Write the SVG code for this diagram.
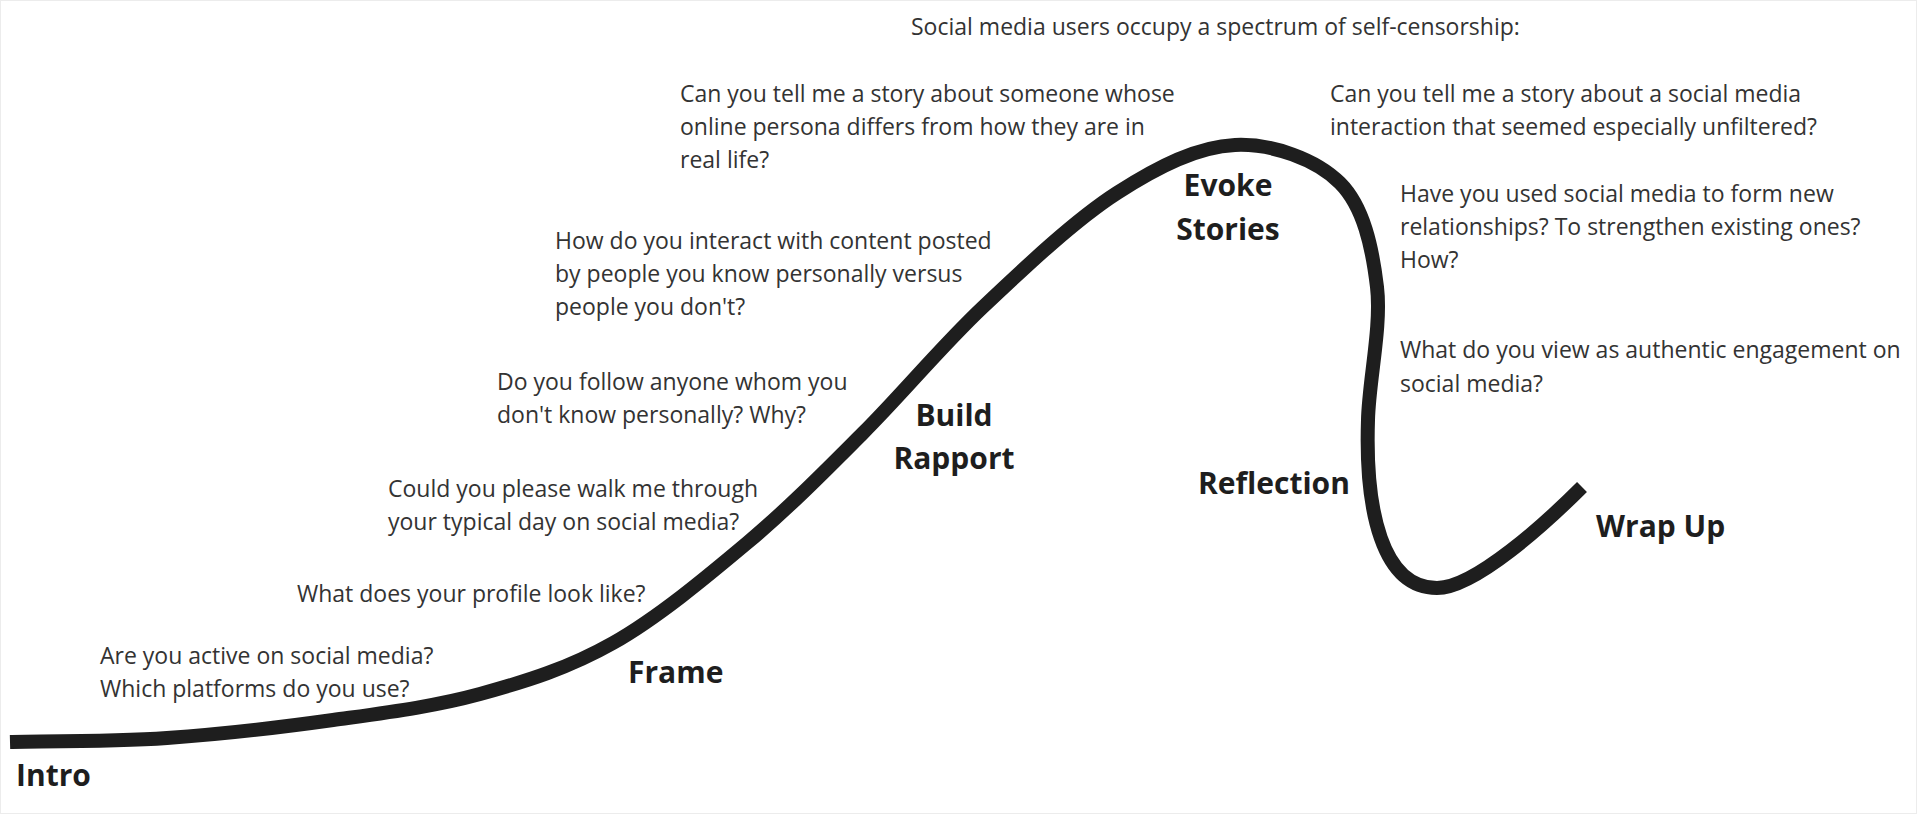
<svg xmlns="http://www.w3.org/2000/svg" width="1917" height="814" viewBox="0 0 1917 814">
<style>
.q{font-family:"Open Sans","Noto Sans",sans-serif;font-size:23px;fill:#333333}
.h{font-family:"Open Sans","Noto Sans",sans-serif;font-size:30px;font-weight:700;fill:#1e1e1e}
.c{text-anchor:middle}
.curve{fill:none;stroke:#1e1e1e;stroke-width:14;stroke-linecap:butt;stroke-linejoin:round}
</style>
<rect x="0" y="0" width="1917" height="814" fill="#ffffff"/>
<rect x="0.5" y="0.5" width="1916" height="813" fill="none" stroke="#ececec" stroke-width="1"/>
<g id="connectors">
<path class="curve" d="M10 742 C36.2 741.3 113.2 741.7 167 738 C220.8 734.3 280.8 727.3 333 720 C385.2 712.7 433.3 706.8 480 694 C526.7 681.2 568.5 668.2 613 643 C657.5 617.8 705.3 578 747 543 C788.7 508 823.7 472.3 863 433 C902.3 393.7 940.7 347 983 307 C1025.3 267 1075 220 1117 193 C1159 166 1197.8 146.7 1235 145 C1272.2 143.3 1316.3 159.3 1340 183 C1363.7 206.7 1372.3 247.5 1377 287 C1381.7 326.5 1368.8 381.2 1368 420 C1365 510 1382 588 1437 588 C1475 588 1547 522 1582 487"/>
</g>
<g id="title"><text class="q" x="911" y="35">Social media users occupy a spectrum of self-censorship:</text></g>
<g id="intro"><text class="h" x="16" y="786">Intro</text></g>
<g id="frame"><text class="h" x="628" y="683">Frame</text></g>
<g id="build-rapport"><text class="h c" x="954" y="426">Build</text><text class="h c" x="954" y="469">Rapport</text></g>
<g id="evoke-stories"><text class="h c" x="1228" y="196">Evoke</text><text class="h c" x="1228" y="240">Stories</text></g>
<g id="reflection"><text class="h" x="1198" y="494">Reflection</text></g>
<g id="wrap-up"><text class="h" x="1596" y="537">Wrap Up</text></g>
<g id="q-active"><text class="q" x="100" y="664">Are you active on social media?</text><text class="q" x="100" y="697">Which platforms do you use?</text></g>
<g id="q-profile"><text class="q" x="297" y="602">What does your profile look like?</text></g>
<g id="q-typical-day"><text class="q" x="388" y="497">Could you please walk me through</text><text class="q" x="388" y="530">your typical day on social media?</text></g>
<g id="q-follow"><text class="q" x="497" y="390">Do you follow anyone whom you</text><text class="q" x="497" y="423">don't know personally? Why?</text></g>
<g id="q-interact"><text class="q" x="555" y="249">How do you interact with content posted</text><text class="q" x="555" y="282">by people you know personally versus</text><text class="q" x="555" y="315">people you don't?</text></g>
<g id="q-persona"><text class="q" x="680" y="102">Can you tell me a story about someone whose</text><text class="q" x="680" y="135">online persona differs from how they are in</text><text class="q" x="680" y="168">real life?</text></g>
<g id="q-unfiltered"><text class="q" x="1330" y="102">Can you tell me a story about a social media</text><text class="q" x="1330" y="135">interaction that seemed especially unfiltered?</text></g>
<g id="q-relationships"><text class="q" x="1400" y="202">Have you used social media to form new</text><text class="q" x="1400" y="235">relationships? To strengthen existing ones?</text><text class="q" x="1400" y="268">How?</text></g>
<g id="q-authentic"><text class="q" x="1400" y="358">What do you view as authentic engagement on</text><text class="q" x="1400" y="392">social media?</text></g>
</svg>
